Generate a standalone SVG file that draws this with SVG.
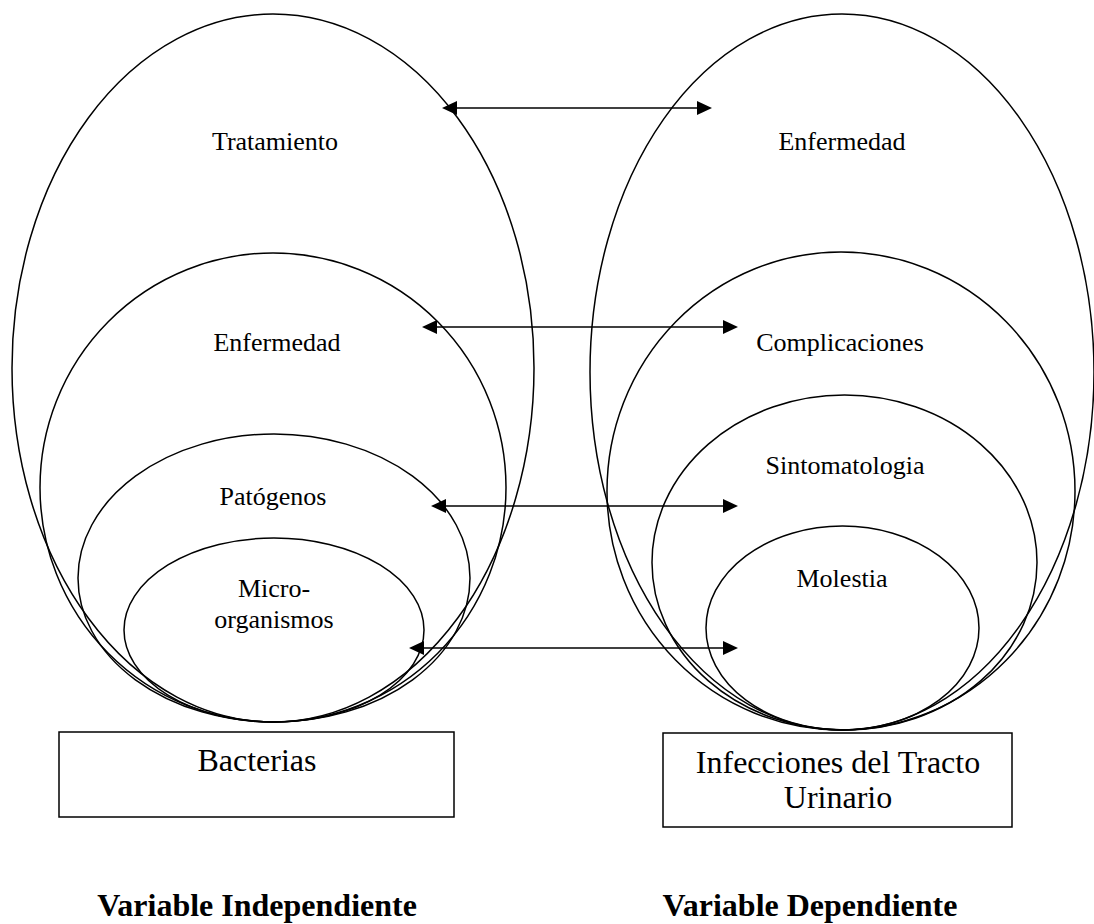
<svg xmlns="http://www.w3.org/2000/svg" width="1094" height="924" viewBox="0 0 1094 924">
<defs>
<marker id="ah" markerUnits="userSpaceOnUse" markerWidth="16" markerHeight="14" refX="7" refY="7" orient="auto-start-reverse">
<path d="M0,0 L15,7 L0,14 Z" fill="#000"/>
</marker>
<style>
.e{fill:none;stroke:#000;stroke-width:1.5}
.b{fill:none;stroke:#000;stroke-width:1.5}
.t{font-family:"Liberation Serif","Times New Roman",serif;font-size:26px;fill:#000;text-anchor:middle}
.bt{font-family:"Liberation Serif","Times New Roman",serif;font-size:32px;fill:#000;text-anchor:middle}
.v{font-family:"Liberation Serif","Times New Roman",serif;font-size:32px;font-weight:bold;fill:#000;text-anchor:middle}
.c{stroke:#000;stroke-width:1.5;fill:none;marker-start:url(#ah);marker-end:url(#ah)}
</style>
</defs>
<rect width="1094" height="924" fill="#fff"/>
<g id="tratamiento"><ellipse class="e" cx="273" cy="368" rx="261" ry="354"/><text class="t" x="275" y="150">Tratamiento</text></g>
<g id="enfermedad-izq"><ellipse class="e" cx="273" cy="487.5" rx="233" ry="234.5"/><text class="t" x="277" y="351">Enfermedad</text></g>
<g id="patogenos"><ellipse class="e" cx="274" cy="578" rx="196" ry="144"/><text class="t" x="273" y="505">Patógenos</text></g>
<g id="microorganismos"><ellipse class="e" cx="274" cy="630" rx="150" ry="92"/><text class="t" x="274" y="597">Micro-</text><text class="t" x="274" y="628">organismos</text></g>
<g id="enfermedad-der"><ellipse class="e" cx="842" cy="372" rx="252" ry="358"/><text class="t" x="842" y="150">Enfermedad</text></g>
<g id="complicaciones"><ellipse class="e" cx="841" cy="491" rx="234" ry="239"/><text class="t" x="840" y="351">Complicaciones</text></g>
<g id="sintomatologia"><ellipse class="e" cx="844.5" cy="562.5" rx="192.5" ry="167.5"/><text class="t" x="845" y="474">Sintomatologia</text></g>
<g id="molestia"><ellipse class="e" cx="842.5" cy="628" rx="136.5" ry="102"/><text class="t" x="842" y="587">Molestia</text></g>
<g id="bacterias"><rect class="b" x="59" y="732" width="395" height="85"/><text class="bt" x="257" y="771">Bacterias</text></g>
<g id="itu"><rect class="b" x="663" y="733" width="349" height="94"/><text class="bt" x="838" y="773">Infecciones del Tracto</text><text class="bt" x="838" y="808">Urinario</text></g>
<g id="var-indep"><text class="v" x="257" y="916">Variable Independiente</text></g>
<g id="var-dep"><text class="v" x="810" y="916">Variable Dependiente</text></g>
<g id="connectors">
<line class="c" x1="450" y1="108" x2="704" y2="108"/>
<line class="c" x1="430" y1="327" x2="730" y2="327"/>
<line class="c" x1="439" y1="506" x2="730" y2="506"/>
<line class="c" x1="417" y1="648" x2="730" y2="648"/>
</g>
</svg>
